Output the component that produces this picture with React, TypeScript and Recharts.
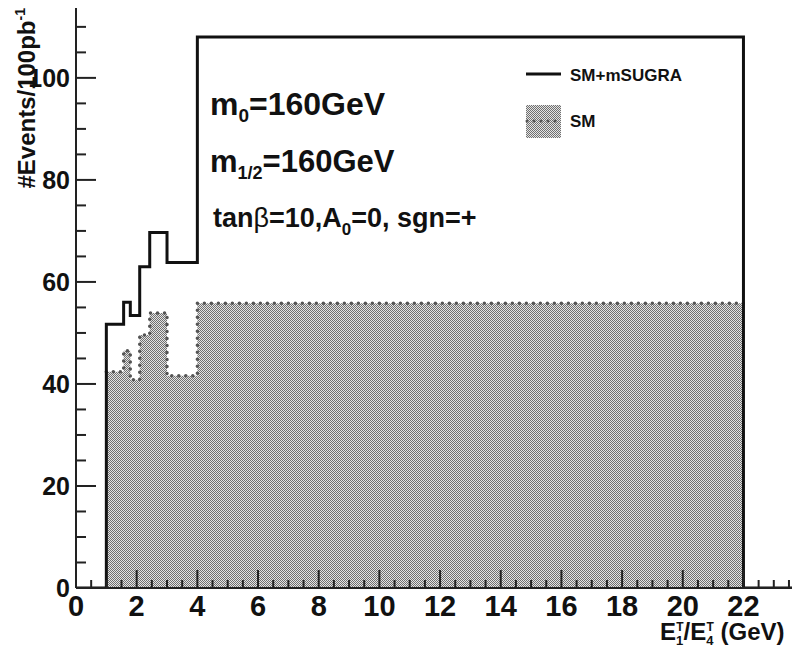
import React from 'react';
import { Area, ComposedChart, Line, XAxis, YAxis } from 'recharts';

// bin low edges of the SM+mSUGRA histogram (last edge closes the axis range)
const totalEdges = [0, 1, 1.57, 1.79, 2.1, 2.43, 3, 4, 22, 23.6];
const totalCounts = [0, 51.7, 56, 53.4, 63, 69.7, 63.8, 108, 0, 0];

// SM only histogram
const smEdges = [1, 1.57, 1.79, 2.1, 2.43, 3, 4, 22];
const smCounts = [42.4, 46.5, 40.8, 49.6, 53.9, 41.6, 55.8, 55.8];

const xMajorTicks = [0, 2, 4, 6, 8, 10, 12, 14, 16, 18, 20, 22];
const yMajorTicks = [0, 20, 40, 60, 80, 100];
const xMinorStep = 0.5;
const yMinorStep = 5;

const X_MAX = 23.6;
const Y_MAX = 113.7;

const FONT = "'Liberation Sans', Arial, Helvetica, sans-serif";

const totalData = totalEdges.map((x, i) => ({ x, total: totalCounts[i] }));
const smData = smEdges.map((x, i) => ({ x, sm: smCounts[i] }));

const xTicks: number[] = [];
for (let v = 0; v <= X_MAX; v += xMinorStep) xTicks.push(+v.toFixed(2));
const yTicks: number[] = [];
for (let v = 0; v <= Y_MAX; v += yMinorStep) yTicks.push(v);

function XTick(props: any) {
  const { x, y, payload } = props;
  const major = xMajorTicks.includes(payload.value);
  return (
    <g>
      <line x1={x} x2={x} y1={y} y2={y - (major ? 18 : 8)} stroke="#222" strokeWidth={2} />
      {major && (
        <text x={x} y={y + 28} textAnchor="middle" fontSize={29} fontWeight="bold" fill="#111" fontFamily={FONT}>
          {payload.value}
        </text>
      )}
    </g>
  );
}

function YTick(props: any) {
  const { x, y, payload } = props;
  const major = yMajorTicks.includes(payload.value);
  return (
    <g>
      <line x1={x} x2={x + (major ? 20 : 10)} y1={y} y2={y} stroke="#222" strokeWidth={2} />
      {major && (
        <text x={x - 6} y={y} dy="0.36em" textAnchor="end" fontSize={25} fontWeight="bold" fill="#111" fontFamily={FONT}>
          {payload.value}
        </text>
      )}
    </g>
  );
}

function Hatch({ id }: { id: string }) {
  return (
    <pattern id={id} width={2} height={2} patternUnits="userSpaceOnUse">
      <rect width={2} height={2} fill="#e4e4e4" />
      <rect width={1} height={1} fill="#707070" />
      <rect x={1} y={1} width={1} height={1} fill="#707070" />
    </pattern>
  );
}

export default function App() {
  const txt = { fontFamily: FONT, fontWeight: 'bold' as const, fill: '#111' };
  return (
    <div style={{ position: 'absolute', left: 0, top: 0, width: 796, height: 648, background: '#fff', overflow: 'hidden' }}>
      <ComposedChart width={796} height={648} margin={{ top: 8, right: 4, left: 0, bottom: 0 }}>
        <defs>
          <Hatch id="smHatch" />
        </defs>
        <Line
          data={totalData}
          dataKey="total"
          type="stepAfter"
          stroke="#111"
          strokeWidth={3}
          dot={false}
          isAnimationActive={false}
        />
        <Area
          data={smData}
          dataKey="sm"
          type="stepAfter"
          fill="url(#smHatch)"
          fillOpacity={1}
          stroke="#555"
          strokeWidth={3.5}
          strokeDasharray="0 7"
          strokeLinecap="round"
          isAnimationActive={false}
        />
        <XAxis
          dataKey="x"
          type="number"
          domain={[0, X_MAX]}
          ticks={xTicks}
          interval={0}
          height={60}
          tickSize={0}
          tickMargin={0}
          tick={<XTick />}
          axisLine={{ stroke: '#222', strokeWidth: 2 }}
          allowDataOverflow
        />
        <YAxis
          type="number"
          domain={[0, Y_MAX]}
          ticks={yTicks}
          interval={0}
          width={76}
          tickSize={0}
          tickMargin={0}
          tick={<YTick />}
          axisLine={{ stroke: '#222', strokeWidth: 2 }}
          allowDataOverflow
        />
      </ComposedChart>
      <svg
        width={796}
        height={648}
        style={{ position: 'absolute', left: 0, top: 0, pointerEvents: 'none' }}
      >
        <defs>
          <Hatch id="legendHatch" />
        </defs>
        {/* legend */}
        <line x1={526} x2={561} y1={74} y2={74} stroke="#111" strokeWidth={3} />
        <text x={570} y={81} fontSize={17} {...txt}>SM+mSUGRA</text>
        <rect x={526} y={105} width={35} height={33} fill="url(#legendHatch)" />
        <line x1={527} x2={561} y1={121} y2={121} stroke="#555" strokeWidth={3} strokeDasharray="0 7" strokeLinecap="round" />
        <text x={570} y={127} fontSize={17} {...txt}>SM</text>

        <text transform="translate(35,8) rotate(-90)" textAnchor="end" fontSize={24} {...txt}>
          #Events/100pb<tspan dy={-10} fontSize={14}>-1</tspan>
        </text>
        <text x={210} y={115} fontSize={32} {...txt}>
          m<tspan dy={7} fontSize={19}>0</tspan>
          <tspan dy={-7}>=160GeV</tspan>
        </text>
        <text x={210} y={172} fontSize={31} {...txt}>
          m<tspan dy={7} fontSize={18}>1/2</tspan>
          <tspan dy={-7}>=160GeV</tspan>
        </text>
        <text x={213} y={227} fontSize={27} {...txt}>
          tan<tspan fontWeight="normal">β</tspan>=10,A<tspan dy={8} fontSize={17}>0</tspan>
          <tspan dy={-8}>=0, sgn=+</tspan>
        </text>
        <text x={660} y={640} fontSize={24} {...txt}>
          E<tspan dy={5} fontSize={13}>1</tspan>
          <tspan dx={-7} dy={-14} fontSize={12}>T</tspan>
          <tspan dy={9}>/E</tspan>
          <tspan dy={5} fontSize={13}>4</tspan>
          <tspan dx={-7} dy={-14} fontSize={12}>T</tspan>
          <tspan dy={9}> (GeV)</tspan>
        </text>
      </svg>
    </div>
  );
}
